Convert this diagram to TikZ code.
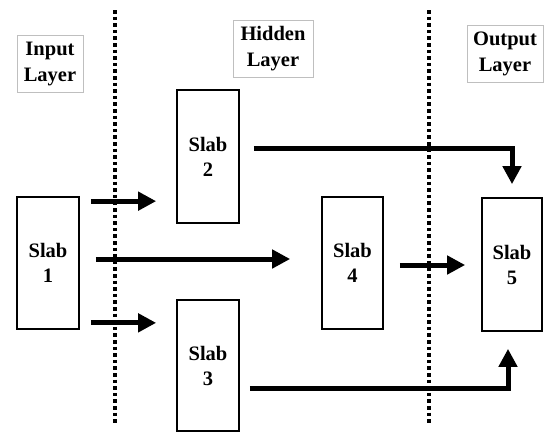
\documentclass[tikz,border=0pt]{standalone}
\usepackage{fontspec}
\setmainfont{Liberation Serif}
\usetikzlibrary{arrows.meta,calc}
\begin{document}
\begin{tikzpicture}[x=1pt,y=-1pt,
  slabbox/.style={draw=black,line width=1.7pt,minimum width=62pt,minimum height=132pt,inner sep=0pt,
    align=center,font=\fontsize{20.5}{25}\selectfont\bfseries},
  labelbox/.style={draw=black!25,line width=0.6pt,align=center,inner sep=0pt,
    font=\fontsize{20.5}{26}\selectfont\bfseries},
  arr/.style={line width=5pt,-{Triangle[length=18pt,width=18pt]}},
  divider/.style={line width=4pt,dash pattern=on 3.6pt off 3pt}]
\useasboundingbox (0,0) rectangle (545,434);
% dividers
\draw[divider] (115,10) -- (115,425);
\draw[divider] (429,10) -- (429,425);
% labels
\node[labelbox,minimum width=66pt,minimum height=57pt] (lin) at (50,63.5) {Input\\Layer};
\node[labelbox,minimum width=80pt,minimum height=57pt] (lhid) at (273,48.5) {Hidden\\Layer};
\node[labelbox,minimum width=76pt,minimum height=57pt] (lout) at (505,53.5) {Output\\Layer};
% slabs
\node[slabbox] (s1) at (48,263) {Slab\\1};
\node[slabbox,minimum height=133pt] (s2) at (208,156.5) {Slab\\2};
\node[slabbox,minimum height=131pt] (s3) at (208,365.5) {Slab\\3};
\node[slabbox,minimum width=61pt] (s4) at (352.5,263) {Slab\\4};
\node[slabbox,minimum width=60pt,minimum height=133pt] (s5) at (512,264.5) {Slab\\5};
% connectors
\coordinate (a1) at ([xshift=11pt,yshift=-5pt]s1.north east);
\draw[arr,shorten >=20pt] (a1) -- (a1 -| s2.west);
\coordinate (a2) at ([xshift=11pt,yshift=7pt]s1.south east);
\draw[arr,shorten >=20pt] (a2) -- (a2 -| s3.west);
\coordinate (a3) at ([xshift=16pt,yshift=4pt]s1.east);
\draw[arr,shorten >=31pt] (a3) -- (a3 -| s4.west);
\coordinate (a4) at ([xshift=16pt,yshift=-2pt]s4.east);
\draw[arr,shorten >=16pt] (a4) -- (a4 -| s5.west);
\coordinate (a5) at ([xshift=14pt,yshift=8.5pt]s2.east);
\draw[arr,shorten >=13pt] (a5) -| (s5.north);
\coordinate (a6) at ([xshift=10pt,yshift=-22.5pt]s3.east);
\coordinate (a6t) at ([xshift=-4pt]s5.south);
\draw[arr,shorten >=17pt] (a6) -| (a6t);
\end{tikzpicture}
\end{document}
